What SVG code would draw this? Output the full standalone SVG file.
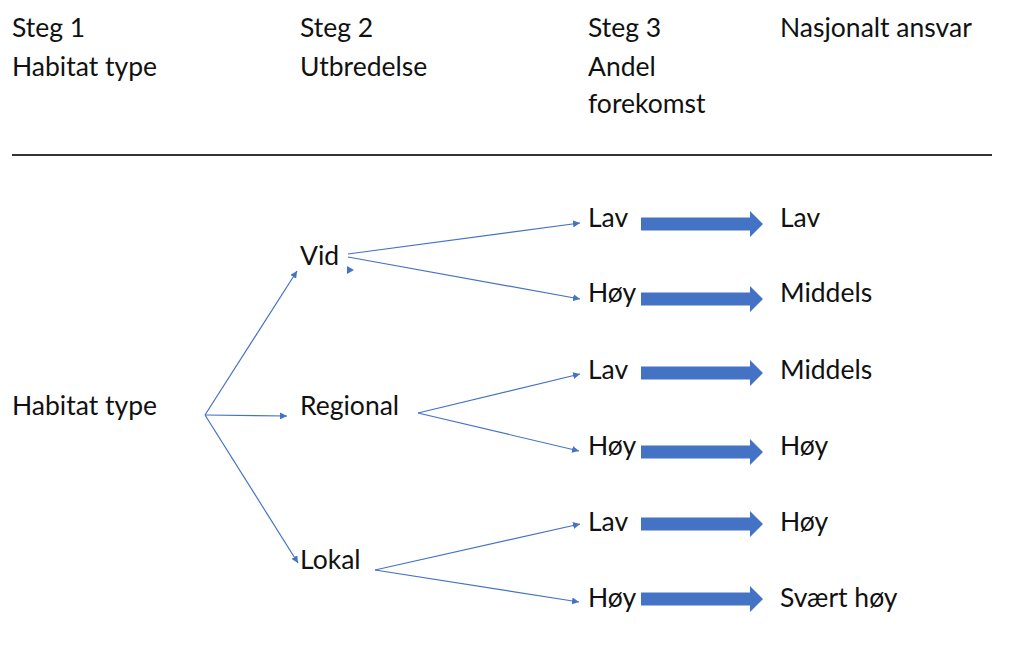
<svg xmlns="http://www.w3.org/2000/svg" width="1010" height="645" viewBox="0 0 1010 645">
<defs>
<style>
text{font-family:Lato,"Open Sans","Liberation Sans",sans-serif;font-size:26.5px;fill:#111}
.c{stroke:#4472C4;stroke-width:1.2;fill:none;marker-end:url(#ah)}
.big{fill:#4472C4}
</style>
<marker id="ah" viewBox="0 0 10 10" refX="10" refY="5" markerWidth="7" markerHeight="7" markerUnits="userSpaceOnUse" orient="auto">
<path d="M0,0 L10,5 L0,10 z" fill="#4472C4"/>
</marker>
<path id="fat" d="M0,-6.5 H109 V-13 L122,0 L109,13 V6.5 H0 z"/>
</defs>
<rect width="1010" height="645" fill="#fff"/>
<g id="headers">
<text x="12" y="37">Steg 1</text>
<text x="12" y="76">Habitat type</text>
<text x="300" y="37">Steg 2</text>
<text x="300" y="76">Utbredelse</text>
<text x="588" y="37">Steg 3</text>
<text x="588" y="76">Andel</text>
<text x="588" y="113">forekomst</text>
<text x="780" y="37">Nasjonalt ansvar</text>
<line x1="12" y1="155" x2="992" y2="155" stroke="#333" stroke-width="2"/>
</g>
<g id="connectors">
<line class="c" x1="205" y1="415" x2="297" y2="271"/>
<line class="c" x1="205" y1="415" x2="287" y2="416"/>
<line class="c" x1="205" y1="415" x2="298" y2="563"/>
<line class="c" x1="348" y1="254" x2="580" y2="223"/>
<line class="c" x1="348" y1="257" x2="580" y2="299"/>
<path d="M347,266 L354,270 L347,274 z" fill="#4472C4"/>
<line class="c" x1="418" y1="413" x2="580" y2="374"/>
<line class="c" x1="418" y1="413" x2="579" y2="451"/>
<line class="c" x1="375" y1="570" x2="580" y2="524"/>
<line class="c" x1="375" y1="570" x2="579" y2="602"/>
<use href="#fat" class="big" x="641" y="224"/>
<use href="#fat" class="big" x="641" y="299"/>
<use href="#fat" class="big" x="641" y="373"/>
<use href="#fat" class="big" x="641" y="452"/>
<use href="#fat" class="big" x="641" y="524"/>
<use href="#fat" class="big" x="641" y="599"/>
</g>
<g id="n-habitat"><text x="12" y="415">Habitat type</text></g>
<g id="n-vid"><text x="300" y="265">Vid</text></g>
<g id="n-regional"><text x="300" y="415">Regional</text></g>
<g id="n-lokal"><text x="300" y="569">Lokal</text></g>
<g id="n-vid-lav"><text x="588" y="227">Lav</text></g>
<g id="n-vid-hoy"><text x="588" y="302">Høy</text></g>
<g id="n-reg-lav"><text x="588" y="379">Lav</text></g>
<g id="n-reg-hoy"><text x="588" y="455">Høy</text></g>
<g id="n-lok-lav"><text x="588" y="531">Lav</text></g>
<g id="n-lok-hoy"><text x="588" y="607">Høy</text></g>
<g id="r1"><text x="780" y="227">Lav</text></g>
<g id="r2"><text x="780" y="302">Middels</text></g>
<g id="r3"><text x="780" y="379">Middels</text></g>
<g id="r4"><text x="780" y="455">Høy</text></g>
<g id="r5"><text x="780" y="531">Høy</text></g>
<g id="r6"><text x="780" y="607">Svært høy</text></g>
</svg>
